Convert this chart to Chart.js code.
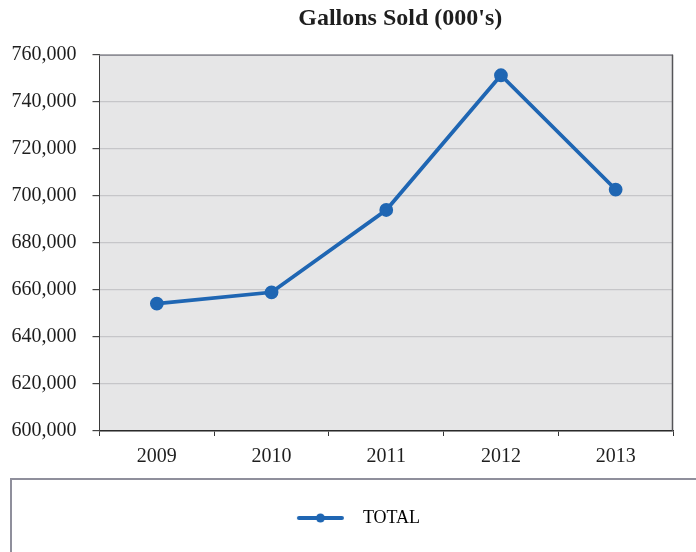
<!DOCTYPE html>
<html>
<head>
<meta charset="utf-8">
<script src="https://cdn.jsdelivr.net/npm/chart.js@4.4.1/dist/chart.umd.min.js"></script>
<style>
  html, body { margin: 0; padding: 0; background: #ffffff; }
  #wrap { width: 696px; height: 552px; position: relative; }
</style>
</head>
<body>
<div id="wrap"><canvas id="chart" width="696" height="552"></canvas></div>
<script>
// Annual gallons sold, in thousands
const years = ['2009', '2010', '2011', '2012', '2013'];
const totalGallons = [654200, 659000, 694000, 751300, 702700];
const yTicks = [600000, 620000, 640000, 660000, 680000, 700000, 720000, 740000, 760000];

const LINE_BLUE = '#1f66b3';
const SERIF = '"Liberation Serif", "Times New Roman", serif';

// Legend swatch: a short line with a dot in the middle
function makeSwatch() {
  const c = document.createElement('canvas');
  c.width = 89; c.height = 14;
  const g = c.getContext('2d');
  g.strokeStyle = LINE_BLUE;
  g.lineWidth = 4;
  g.lineCap = 'round';
  g.beginPath();
  g.moveTo(34, 7); g.lineTo(77, 7);
  g.stroke();
  g.fillStyle = LINE_BLUE;
  g.beginPath();
  g.arc(55.5, 7, 4.5, 0, Math.PI * 2);
  g.fill();
  return c;
}
const swatch = makeSwatch();

// Plot-area fill and frame, plus the rectangle around the legend
const frame = {
  id: 'frame',
  beforeDraw(chart) {
    const { ctx, chartArea: a } = chart;
    ctx.save();
    ctx.fillStyle = '#e6e6e7';
    ctx.fillRect(a.left, a.top, a.right - a.left, a.bottom - a.top);
    ctx.restore();
  },
  afterDatasetsDraw(chart) {
    const { ctx, chartArea: a } = chart;
    ctx.save();
    ctx.lineWidth = 1.5;
    ctx.strokeStyle = '#8e8e96';
    ctx.beginPath();
    ctx.moveTo(a.left, a.top + 0.5); ctx.lineTo(a.right, a.top + 0.5);
    ctx.stroke();
    ctx.strokeStyle = '#555558';
    ctx.beginPath();
    ctx.moveTo(a.right - 0.5, a.top); ctx.lineTo(a.right - 0.5, a.bottom);
    ctx.stroke();
    ctx.restore();
  },
  afterDraw(chart) {
    const { ctx } = chart;
    const lg = chart.legend;
    ctx.save();
    ctx.lineWidth = 2;
    ctx.strokeStyle = '#8f8f9c';
    ctx.strokeRect(11, lg.top + 1, chart.width + 20, chart.height);
    ctx.restore();
  }
};

// Center the title a little right of the plot middle
const titleShift = {
  id: 'titleShift',
  afterLayout(chart) {
    const t = chart.titleBlock;
    const a = chart.chartArea;
    if (t) { t.left = a.left + 28; t.right = a.right; }
  }
};

new Chart(document.getElementById('chart'), {
  type: 'line',
  data: {
    labels: years,
    datasets: [{
      label: 'TOTAL',
      data: totalGallons,
      borderColor: LINE_BLUE,
      backgroundColor: LINE_BLUE,
      borderWidth: 3.8,
      pointRadius: 5,
      pointHoverRadius: 5,
      pointBackgroundColor: LINE_BLUE,
      pointBorderColor: LINE_BLUE,
      tension: 0,
      fill: false
    }]
  },
  options: {
    responsive: false,
    animation: false,
    devicePixelRatio: 1,
    layout: { padding: { left: 12, right: 23, top: 0, bottom: 15 } },
    plugins: {
      title: {
        display: true,
        text: "Gallons Sold (000's)",
        color: '#1e1e1e',
        font: { family: SERIF, size: 24, weight: 'bold' },
        padding: { top: 4, bottom: 22 }
      },
      legend: {
        display: true,
        position: 'bottom',
        labels: {
          usePointStyle: true,
          pointStyleWidth: 89,
          padding: 31,
          color: '#1e1e1e',
          font: { family: SERIF, size: 18 },
          generateLabels(chart) {
            return chart.data.datasets.map((ds, i) => ({
              text: ds.label,
              pointStyle: swatch,
              fillStyle: LINE_BLUE,
              strokeStyle: LINE_BLUE,
              lineWidth: 0,
              hidden: false,
              datasetIndex: i
            }));
          }
        }
      },
      tooltip: { enabled: false }
    },
    scales: {
      x: {
        offset: true,
        grid: {
          offset: true,
          drawOnChartArea: false,
          drawTicks: true,
          tickLength: 5,
          tickColor: '#333333',
          lineWidth: 1
        },
        border: { color: '#2a2a2a', width: 1.5 },
        ticks: {
          color: '#1e1e1e',
          font: { family: SERIF, size: 20 },
          padding: 9,
          maxRotation: 0
        }
      },
      y: {
        min: yTicks[0],
        max: yTicks[yTicks.length - 1],
        afterBuildTicks(scale) {
          scale.ticks = yTicks.map(v => ({ value: v }));
        },
        afterFit(scale) {
          scale.width = 87.5;
        },
        grid: {
          color: '#c6c6c9',
          lineWidth: 1.2,
          tickColor: '#444444',
          tickLength: 7
        },
        border: { color: '#3a3a3a', width: 1 },
        ticks: {
          color: '#1e1e1e',
          font: { family: SERIF, size: 20 },
          padding: 16,
          callback: v => v.toLocaleString('en-US')
        }
      }
    }
  },
  plugins: [frame, titleShift]
});
</script>
</body>
</html>
